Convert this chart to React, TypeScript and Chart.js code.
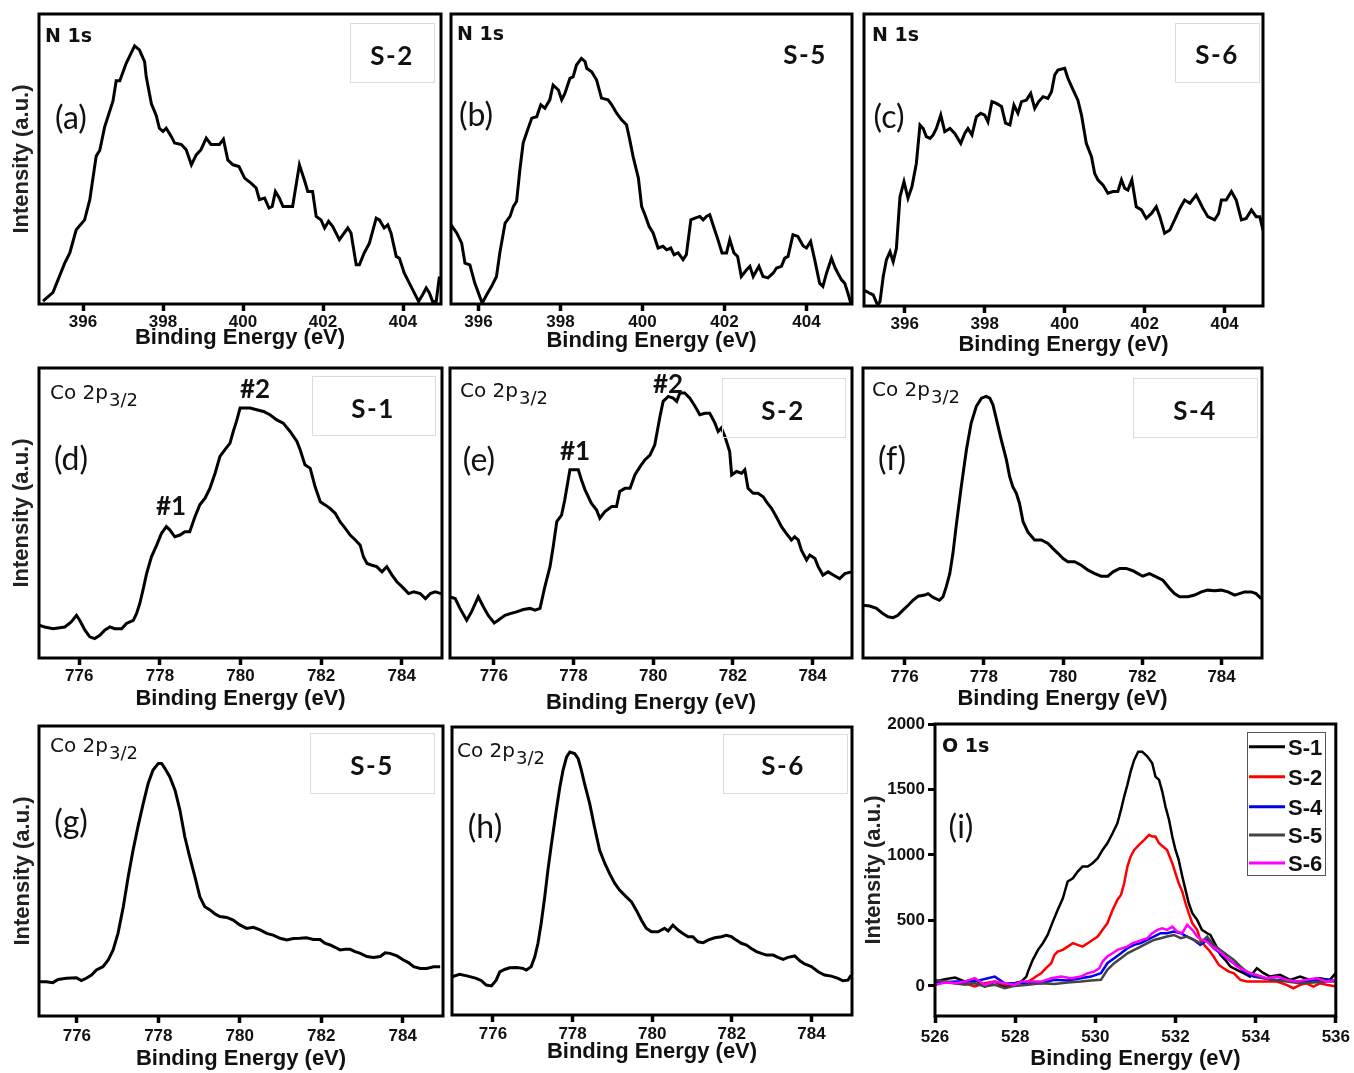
import React, { useEffect, useRef } from "react";
import { Chart, registerables } from "chart.js";
Chart.register(...registerables);
Chart.defaults.font.family = '"Liberation Sans", Arial, sans-serif';
Chart.defaults.color = "#111";

type Pt = [number, number];

// ---------- DATA ----------
const xTicksN = [396, 398, 400, 402, 404];
const xTicksCo = [776, 778, 780, 782, 784];
const xTicksO = [526, 528, 530, 532, 534, 536];
const yTicksO = [0, 500, 1000, 1500, 2000];

const N1s_S2: Pt[] = [[395.00,1],[395.25,4],[395.54,14],[395.67,17.6],[395.83,25.6],[396.04,29],[396.17,36],[396.33,51],[396.42,53],[396.54,61],[396.75,70],[396.83,77],[396.92,77],[397.08,83],[397.29,89],[397.41,87.6],[397.54,83.6],[397.58,78.4],[397.71,69],[397.83,65],[397.91,60.6],[398.00,59.5],[398.08,60.6],[398.21,57.7],[398.29,55.5],[398.46,55],[398.58,53.2],[398.71,48],[398.83,51.4],[398.95,53.2],[399.08,57.2],[399.20,55],[399.41,55],[399.51,56.8],[399.62,49.7],[399.75,48],[399.90,47.4],[400.04,43.4],[400.20,41.7],[400.33,40],[400.41,36],[400.54,36.5],[400.65,33.1],[400.73,33.6],[400.81,38.8],[400.91,36.5],[401.00,33.6],[401.24,33.6],[401.41,48],[401.54,42.5],[401.62,38.8],[401.74,38.8],[401.83,30.2],[401.95,29],[402.04,26.2],[402.14,28.5],[402.24,26.8],[402.41,22.2],[402.62,26.2],[402.70,24.5],[402.83,13.5],[402.91,13.5],[403.03,17.6],[403.16,21],[403.33,29.6],[403.41,29],[403.53,26.2],[403.62,27.3],[403.70,24.5],[403.83,16.4],[403.91,15.8],[404.03,10.7],[404.20,6.1],[404.39,0.9],[404.49,3.2],[404.58,5.5],[404.66,3.8],[404.74,0.9],[404.83,0.9],[404.91,9.5]];

const N1s_S5: Pt[] = [[395.33,27.3],[395.47,24.5],[395.59,21],[395.67,14.1],[395.79,13.5],[395.91,7.2],[396.09,0.3],[396.20,3.2],[396.32,6.1],[396.44,9.5],[396.52,17.6],[396.65,27.9],[396.77,30.2],[396.85,33.6],[396.93,35.4],[397.01,46.3],[397.09,55.5],[397.17,58.9],[397.30,64.1],[397.42,64.6],[397.52,68.7],[397.62,67.5],[397.74,70.4],[397.82,75.5],[397.95,73.8],[398.03,70.4],[398.11,72.7],[398.23,77.8],[398.31,78.4],[398.39,82.4],[398.51,84.7],[398.60,83.6],[398.64,81.3],[398.76,80.1],[398.88,77.3],[399.00,71],[399.16,70.4],[399.25,68.7],[399.37,65.8],[399.49,63.5],[399.61,61.8],[399.69,56.6],[399.77,50.9],[399.90,43.4],[399.98,33.6],[400.06,30.8],[400.16,26.8],[400.26,24.5],[400.38,19.3],[400.50,19.9],[400.59,18.7],[400.69,19.3],[400.77,17],[400.87,17.6],[400.99,15.3],[401.07,17],[401.18,29],[401.28,29.6],[401.40,30.2],[401.48,29],[401.56,30.2],[401.64,30.8],[401.76,25.6],[401.84,22.2],[401.94,17.6],[402.05,17.6],[402.13,22.2],[402.23,17.6],[402.32,16.4],[402.41,9.5],[402.54,11.8],[402.62,13],[402.70,9.5],[402.84,13],[402.94,9.5],[403.06,9],[403.19,10.7],[403.27,12.4],[403.39,13],[403.47,15.8],[403.55,16.4],[403.67,23.9],[403.79,23.3],[403.92,20],[404.00,19.3],[404.10,21.6],[404.20,15.3],[404.32,7.2],[404.40,6.1],[404.49,10.7],[404.61,15.8],[404.70,12.4],[404.85,8.4],[404.93,7.2],[405.01,3.8],[405.08,0.3]];

const N1s_S6: Pt[] = [[394.98,5.5],[395.13,4.3],[395.21,3.8],[395.32,0.3],[395.38,1.5],[395.46,10],[395.54,15.8],[395.63,18.6],[395.71,15.2],[395.79,19.7],[395.88,37.4],[395.98,42.6],[396.08,36.9],[396.18,40.9],[396.29,48.9],[396.38,62],[396.46,60.8],[396.54,58],[396.63,57.4],[396.71,58.6],[396.79,60.8],[396.90,65.4],[397.00,59.7],[397.13,60.8],[397.25,59.1],[397.40,55.7],[397.50,59.1],[397.58,60.8],[397.68,58.6],[397.79,64.8],[397.90,66],[398.00,65.4],[398.08,63.1],[398.18,70],[398.29,69.4],[398.42,68.3],[398.52,62.6],[398.63,62],[398.73,68.8],[398.83,66],[398.92,70],[399.04,70.5],[399.15,72.8],[399.25,67.7],[399.35,70],[399.46,71.7],[399.58,71.1],[399.67,73.4],[399.75,79.1],[399.83,80.8],[400.00,81.4],[400.08,78],[400.21,74],[400.33,70.5],[400.42,65.4],[400.54,55.7],[400.67,51.1],[400.75,45.4],[400.83,43.2],[400.96,41.4],[401.08,38.6],[401.21,39.2],[401.33,39.2],[401.42,43.2],[401.50,40.3],[401.58,39.7],[401.68,43.2],[401.79,34],[401.92,32.9],[402.04,30],[402.17,31.7],[402.29,34],[402.38,30.6],[402.50,24.9],[402.63,26],[402.75,29.5],[402.88,33.4],[403.00,36.3],[403.13,35.2],[403.29,38],[403.46,33.4],[403.58,30.6],[403.75,29.5],[403.85,31.7],[403.92,36.3],[404.04,36.3],[404.17,39.2],[404.29,36.3],[404.42,29.5],[404.54,30],[404.67,32.9],[404.79,30.6],[404.88,30.6],[404.96,26]];

const Co_S1: Pt[] = [[775.00,11.3],[775.14,10.7],[775.35,10.1],[775.64,10.7],[775.80,12.4],[775.93,14.7],[776.01,13],[776.14,9.6],[776.26,7.3],[776.38,6.7],[776.51,7.8],[776.63,9.6],[776.76,10.7],[776.88,10.1],[777.05,10.1],[777.17,11.9],[777.34,13],[777.42,15.3],[777.50,18.8],[777.58,23.4],[777.67,29.1],[777.79,34.9],[777.92,38.9],[778.04,43],[778.16,45.3],[778.25,44.1],[778.37,41.8],[778.50,42.4],[778.62,43.5],[778.74,43.5],[778.87,48.7],[778.99,52.8],[779.12,55.1],[779.24,58.5],[779.37,63.7],[779.49,69.5],[779.61,71.8],[779.74,74.1],[779.82,78.1],[779.90,81.6],[779.99,86.2],[780.11,86.2],[780.24,86.2],[780.40,85.6],[780.57,85],[780.73,83.9],[780.90,82.1],[781.06,81],[781.23,78.1],[781.40,74.7],[781.48,71.8],[781.60,66.6],[781.73,65.4],[781.85,59.1],[781.98,53.9],[782.10,52.8],[782.22,51.6],[782.35,49.9],[782.47,47],[782.60,44.7],[782.72,42.4],[782.85,40.7],[782.97,38.9],[783.05,34.9],[783.14,32.6],[783.26,32],[783.38,31.5],[783.51,29.7],[783.63,31.5],[783.76,28.6],[783.88,26.3],[784.05,24],[784.17,22.2],[784.30,22.8],[784.46,22.2],[784.59,20.5],[784.71,22.2],[784.83,22.8],[784.98,22.2]];

const Co_S2: Pt[] = [[774.90,21.1],[775.03,20.5],[775.15,17.1],[775.32,13],[775.44,15.9],[775.61,21.1],[775.74,17.6],[775.86,14.7],[776.01,12.1],[776.11,13],[776.28,14.7],[776.41,15.3],[776.57,15.9],[776.74,16.7],[776.91,17.1],[777.03,16.5],[777.16,17.1],[777.28,24.5],[777.41,31.5],[777.49,38.4],[777.58,47],[777.70,49.3],[777.78,54.5],[777.91,64.9],[778.12,64.9],[778.20,61.4],[778.29,58],[778.45,53.3],[778.58,51],[778.66,48.2],[778.79,50.5],[778.96,52.2],[779.08,52.2],[779.16,57.4],[779.29,58.5],[779.42,58.5],[779.54,63.1],[779.67,66],[779.79,68.3],[779.92,70],[780.04,73.5],[780.17,83.3],[780.25,88.5],[780.38,90.2],[780.50,89.6],[780.59,88.5],[780.67,91.4],[780.79,91.4],[780.92,89.6],[781.05,86.8],[781.17,83.9],[781.30,84.4],[781.42,84.4],[781.55,81],[781.63,78.1],[781.71,79.3],[781.80,76.4],[781.92,71.2],[781.97,63.1],[782.09,64.3],[782.22,63.7],[782.30,64.9],[782.38,58.5],[782.51,56.8],[782.63,56.8],[782.76,55.6],[782.84,53.9],[782.97,51.6],[783.09,48.7],[783.22,45.3],[783.34,43],[783.47,40.7],[783.55,41.8],[783.64,40.7],[783.72,37.2],[783.85,33.8],[783.93,35.5],[784.06,34.3],[784.14,31.5],[784.26,28.6],[784.39,29.7],[784.52,28.6],[784.68,27.4],[784.81,29.1],[784.98,29.7]];

const Co_S4: Pt[] = [[774.95,18.2],[775.12,17.9],[775.29,17.1],[775.45,15.3],[775.58,14.2],[775.71,13.9],[775.83,14.7],[775.96,16.5],[776.09,18.2],[776.21,19.9],[776.34,21.3],[776.51,21.7],[776.59,22.2],[776.72,20.9],[776.88,19.9],[776.97,21.1],[777.05,24.5],[777.14,29.1],[777.22,36.1],[777.30,45.3],[777.43,59.1],[777.56,71.8],[777.68,81],[777.81,86.8],[777.94,89.6],[778.06,90.2],[778.15,89.6],[778.23,87.3],[778.31,82.7],[778.44,75.2],[778.57,68.3],[778.65,62.6],[778.73,59.1],[778.82,56.8],[778.90,53.3],[778.99,47],[779.11,43.5],[779.28,40.7],[779.45,40.7],[779.62,39.5],[779.74,37.8],[779.87,36.1],[780.00,34.3],[780.12,33.2],[780.29,33.2],[780.46,32],[780.63,30.3],[780.80,29.1],[780.96,28.2],[781.13,28.2],[781.26,29.7],[781.43,30.9],[781.59,30.9],[781.76,30.1],[781.89,29.1],[782.01,28.2],[782.18,29.1],[782.35,28],[782.52,26.8],[782.69,24],[782.81,22.2],[782.94,21.1],[783.15,21.1],[783.32,21.7],[783.49,22.8],[783.65,23.4],[783.82,23.2],[783.99,23.4],[784.16,22.8],[784.33,21.7],[784.45,22.2],[784.58,22.8],[784.75,22.8],[784.87,22.2],[785.00,20.5]];

const Co_S5: Pt[] = [[775.07,11.8],[775.25,11.8],[775.41,11.5],[775.54,12.6],[775.74,13],[775.99,13.2],[776.11,12.2],[776.23,13],[776.36,14.1],[776.48,15.9],[776.64,17],[776.77,19.3],[776.89,22.8],[777.01,28.5],[777.14,37.7],[777.26,48],[777.38,57.2],[777.50,65.3],[777.63,73.3],[777.75,80.2],[777.87,84.8],[778.00,87.1],[778.08,87.1],[778.16,85.4],[778.28,82.5],[778.41,77.9],[778.53,71],[778.65,61.8],[778.77,54.9],[778.90,48],[779.02,41.1],[779.14,37.7],[779.27,36.6],[779.39,35.2],[779.51,34.3],[779.68,34],[779.84,33.1],[780.00,31.4],[780.17,30.2],[780.33,30.6],[780.50,29.7],[780.66,28.5],[780.82,27.9],[780.99,26.8],[781.15,26.2],[781.32,26.7],[781.48,26.8],[781.64,27],[781.81,26.4],[781.97,26.4],[782.09,25.1],[782.22,24.5],[782.34,23.7],[782.46,22.8],[782.59,23],[782.71,23],[782.83,22.2],[782.96,21.6],[783.12,20.5],[783.28,20.2],[783.45,20.5],[783.57,21.8],[783.69,21.6],[783.86,20.7],[784.02,19.3],[784.14,18.4],[784.27,17],[784.43,16.4],[784.59,16.4],[784.76,17],[784.92,17]];

const Co_S6: Pt[] = [[774.97,13.3],[775.16,14.1],[775.37,13.5],[775.58,12.7],[775.71,11.9],[775.83,10.4],[775.96,10.1],[776.08,12.1],[776.17,15],[776.29,15.8],[776.42,16.4],[776.59,16.5],[776.75,16.2],[776.84,15.6],[776.96,16.8],[777.05,20.2],[777.13,24.9],[777.21,31.8],[777.30,41],[777.38,50.3],[777.47,59.5],[777.59,71.1],[777.68,79.2],[777.76,85],[777.85,89.6],[777.93,91.3],[778.05,90.8],[778.14,89],[778.22,85],[778.30,80.3],[778.43,73.4],[778.55,65.3],[778.68,57.2],[778.81,52.6],[778.93,49.1],[779.06,45.7],[779.18,43.4],[779.35,41],[779.48,39.3],[779.60,36.4],[779.73,32.9],[779.85,30.1],[779.98,28.9],[780.15,28.9],[780.23,29.5],[780.31,30.1],[780.40,29.2],[780.52,31.2],[780.65,29.5],[780.77,28.3],[780.90,27.2],[781.02,27.2],[781.15,25.4],[781.28,25.1],[781.40,26],[781.57,26.8],[781.74,27.2],[781.86,27.7],[781.99,27.2],[782.11,26],[782.24,24.9],[782.37,24.3],[782.49,23.1],[782.62,22],[782.74,21.4],[782.87,20.8],[783.04,20.8],[783.16,20],[783.29,19.3],[783.41,20],[783.58,20.5],[783.71,18.8],[783.83,17.7],[784.00,16.8],[784.17,15],[784.33,13.9],[784.50,13.5],[784.67,12.7],[784.79,11.9],[784.92,12.1],[785.00,13.9]];

const O1s_S1: Pt[] = [[526.00,33],[526.25,51],[526.50,64],[526.75,33],[526.99,51],[527.24,-5],[527.49,33],[527.74,-5],[527.99,20],[528.15,33],[528.28,71],[528.32,109],[528.44,199],[528.57,275],[528.69,326],[528.81,389],[528.94,491],[529.06,580],[529.19,669],[529.31,797],[529.44,822],[529.56,873],[529.68,911],[529.81,911],[529.93,937],[530.06,975],[530.18,1038],[530.30,1089],[530.43,1166],[530.55,1242],[530.64,1344],[530.72,1446],[530.80,1535],[530.88,1636],[530.97,1726],[531.07,1789],[531.17,1789],[531.30,1751],[531.42,1700],[531.50,1598],[531.59,1573],[531.67,1484],[531.75,1369],[531.84,1267],[531.92,1140],[532.00,1038],[532.08,962],[532.17,835],[532.25,733],[532.33,631],[532.42,555],[532.54,504],[532.66,428],[532.79,402],[532.87,389],[533.00,313],[533.12,237],[533.24,199],[533.37,148],[533.53,122],[533.70,97],[533.86,71],[534.03,135],[534.20,97],[534.36,71],[534.61,84],[534.86,46],[535.11,71],[535.35,46],[535.60,59],[535.85,46],[536.00,97]];

const O1s_S2: Pt[] = [[526.00,8],[526.25,33],[526.50,20],[526.75,20],[526.99,-5],[527.24,20],[527.49,33],[527.74,8],[527.99,20],[528.24,25],[528.40,46],[528.52,71],[528.65,97],[528.77,135],[528.90,173],[528.98,237],[529.06,262],[529.19,275],[529.31,300],[529.44,326],[529.56,313],[529.68,300],[529.81,326],[529.93,351],[530.06,377],[530.18,428],[530.30,478],[530.43,580],[530.55,657],[530.64,695],[530.72,784],[530.80,911],[530.88,987],[530.97,1038],[531.09,1077],[531.22,1115],[531.34,1153],[531.42,1140],[531.50,1140],[531.59,1089],[531.79,1038],[531.92,937],[532.00,860],[532.08,784],[532.17,720],[532.25,631],[532.33,555],[532.42,478],[532.54,428],[532.62,351],[532.75,300],[532.83,275],[532.95,224],[533.08,160],[533.20,135],[533.33,109],[533.45,97],[533.62,46],[533.78,33],[534.03,33],[534.28,33],[534.53,33],[534.77,8],[534.94,-18],[535.11,8],[535.27,20],[535.44,-5],[535.60,20],[535.77,8],[536.00,-5]];

const O1s_S4: Pt[] = [[526.00,20],[526.50,33],[526.99,33],[527.49,71],[527.74,20],[527.99,20],[528.32,25],[528.65,20],[528.98,46],[529.31,41],[529.64,59],[529.89,71],[530.14,97],[530.30,173],[530.47,211],[530.64,249],[530.80,288],[530.97,313],[531.13,326],[531.30,351],[531.46,377],[531.63,402],[531.79,402],[531.96,415],[532.13,402],[532.29,377],[532.46,351],[532.62,313],[532.79,351],[532.95,288],[533.12,249],[533.28,211],[533.45,173],[533.62,135],[533.78,97],[533.95,71],[534.20,59],[534.44,46],[534.77,41],[535.11,33],[535.44,41],[535.77,46],[536.00,41]];

const O1s_S5: Pt[] = [[526.00,46],[526.25,33],[526.50,20],[526.75,8],[526.99,20],[527.24,-5],[527.49,8],[527.74,-18],[527.99,0],[528.32,8],[528.65,20],[528.98,15],[529.31,25],[529.64,33],[529.89,41],[530.14,46],[530.30,122],[530.47,173],[530.64,211],[530.80,249],[530.97,275],[531.13,300],[531.30,326],[531.46,351],[531.63,364],[531.79,377],[531.96,389],[532.13,364],[532.29,377],[532.46,351],[532.62,326],[532.79,377],[532.95,313],[533.12,275],[533.28,237],[533.45,199],[533.62,148],[533.78,109],[533.95,84],[534.20,59],[534.44,46],[534.77,33],[535.11,20],[535.44,25],[535.77,33],[536.00,33]];

const O1s_S6: Pt[] = [[526.00,8],[526.25,25],[526.50,20],[526.75,33],[526.99,59],[527.24,8],[527.49,33],[527.74,20],[527.99,8],[528.15,33],[528.40,33],[528.65,33],[528.90,59],[529.15,71],[529.39,59],[529.64,71],[529.81,97],[529.97,109],[530.10,135],[530.18,186],[530.30,224],[530.43,249],[530.55,275],[530.68,288],[530.80,300],[530.93,326],[531.05,338],[531.17,351],[531.30,364],[531.42,402],[531.55,428],[531.67,440],[531.79,428],[531.92,453],[532.04,415],[532.17,402],[532.29,466],[532.42,428],[532.54,377],[532.66,351],[532.79,338],[532.91,300],[533.04,275],[533.16,249],[533.28,211],[533.41,186],[533.53,148],[533.70,122],[533.86,97],[534.03,84],[534.28,59],[534.53,71],[534.77,46],[535.02,33],[535.27,46],[535.52,59],[535.77,33],[536.00,46]];

const legendLabels = ["S-1", "S-2", "S-4", "S-5", "S-6"];
const legendColors = ["#000000", "#ff0000", "#0000ee", "#444444", "#ff00ff"];

// ---------- LAYOUT ----------
type Txt = { t: string; x: number; y: number; f: string; a?: CanvasTextAlign; sub?: string; subF?: string; ls?: string };
type Series = { data: Pt[]; color: string; width: number; order?: number };
type Spec = {
  frame: [number, number, number, number];
  xMin: number; xMax: number; yMin: number; yMax: number;
  xTicks: number[];
  xTitleY: number; tickPad: number;
  yTitleX?: number; yTicks?: number[];
  padRight?: number;
  series: Series[];
  texts: Txt[];
  boxes: [number, number, number, number][];
  legend?: { box: [number, number, number, number]; rows: number[]; x1: number; x2: number; tx: number };
};

const FONT_N = 'bold 19px "DejaVu Sans"';
const FONT_CO = '20px "DejaVu Sans"';
const FONT_SUB = '18px "DejaVu Sans"';
const FONT_S = 'bold 26px Lato';
const FONT_L = '32px Lato';
const FONT_H = 'bold 26px Lato';

const coLabel = (x: number, y: number): Txt => ({ t: "Co 2p", x, y, f: FONT_CO, sub: "3/2", subF: FONT_SUB });
const sLabel = (t: string, x: number, y: number): Txt => ({ t, x, y, f: FONT_S, a: "center", ls: "1.5px" });
const pLabel = (t: string, x: number, y: number): Txt => ({ t, x, y, f: FONT_L, a: "center" });

const specs: Spec[] = [
  { frame: [39, 14, 441, 304], xMin: 394.9, xMax: 404.95, yMin: 0, yMax: 100, xTicks: xTicksN, xTitleY: 337.5, tickPad: 1.0, yTitleX: 22,
    series: [{ data: N1s_S2, color: "#000", width: 3 }],
    texts: [{ t: "N 1s", x: 45, y: 42, f: FONT_N }, sLabel("S-2", 392, 65), pLabel("(a)", 71, 128.5)],
    boxes: [[350, 23, 434, 82]] },
  { frame: [451, 14, 852, 304], xMin: 395.33, xMax: 405.11, yMin: 0, yMax: 100, xTicks: xTicksN, xTitleY: 340.5, tickPad: 1.5,
    series: [{ data: N1s_S5, color: "#000", width: 3 }],
    texts: [{ t: "N 1s", x: 457, y: 39.5, f: FONT_N }, sLabel("S-5", 805, 63.5), pLabel("(b)", 476, 125.5)],
    boxes: [] },
  { frame: [864, 14, 1263, 306], xMin: 394.98, xMax: 404.96, yMin: 0, yMax: 100, xTicks: xTicksN, xTitleY: 345, tickPad: 1.5,
    series: [{ data: N1s_S6, color: "#000", width: 3 }],
    texts: [{ t: "N 1s", x: 872, y: 40.7, f: FONT_N }, sLabel("S-6", 1217, 64), pLabel("(c)", 889, 127.5)],
    boxes: [[1175, 23, 1259, 82]] },
  { frame: [39, 368, 442, 658], xMin: 775, xMax: 785, yMin: 0, yMax: 100, xTicks: xTicksCo, xTitleY: 699, tickPad: 1.0, yTitleX: 22,
    series: [{ data: Co_S1, color: "#000", width: 3 }],
    texts: [coLabel(50, 399), sLabel("S-1", 373, 417.5), pLabel("(d)", 71, 470),
      { t: "#1", x: 171, y: 515, f: FONT_H, a: "center" }, { t: "#2", x: 255, y: 398, f: FONT_H, a: "center" }],
    boxes: [[312, 376, 435, 435]] },
  { frame: [450, 368, 852, 658], xMin: 774.9, xMax: 784.99, yMin: 0, yMax: 100, xTicks: xTicksCo, xTitleY: 703, tickPad: 1.0,
    series: [{ data: Co_S2, color: "#000", width: 3 }],
    texts: [coLabel(460, 396.7), sLabel("S-2", 783, 420), pLabel("(e)", 479, 470.5),
      { t: "#1", x: 575, y: 460, f: FONT_H, a: "center" }, { t: "#2", x: 668, y: 393, f: FONT_H, a: "center" }],
    boxes: [[722, 378, 845, 437]] },
  { frame: [863, 368, 1262, 658], xMin: 774.95, xMax: 785.02, yMin: 0, yMax: 100, xTicks: xTicksCo, xTitleY: 698.5, tickPad: 2.0,
    series: [{ data: Co_S4, color: "#000", width: 3 }],
    texts: [coLabel(872, 396), sLabel("S-4", 1195, 420), pLabel("(f)", 892, 469.5)],
    boxes: [[1133, 378, 1257, 437]] },
  { frame: [39, 726, 443, 1016], xMin: 775.07, xMax: 784.99, yMin: 0, yMax: 100, xTicks: xTicksCo, xTitleY: 1059, tickPad: 3.0, yTitleX: 23,
    series: [{ data: Co_S5, color: "#000", width: 3 }],
    texts: [coLabel(50, 751.7), sLabel("S-5", 372, 774.5), pLabel("(g)", 71, 832.5)],
    boxes: [[310, 733, 434, 793]] },
  { frame: [452, 727, 852, 1015], xMin: 774.97, xMax: 785.02, yMin: 0, yMax: 100, xTicks: xTicksCo, xTitleY: 1052, tickPad: 2.0,
    series: [{ data: Co_S6, color: "#000", width: 3 }],
    texts: [coLabel(457, 756.7), sLabel("S-6", 783, 774.5), pLabel("(h)", 485, 837.5)],
    boxes: [[723, 734, 847, 793]] },
  { frame: [935, 724, 1338, 1016], xMin: 526, xMax: 536, yMin: -230, yMax: 2000, xTicks: xTicksO, xTitleY: 1059, tickPad: 4.0, yTitleX: 874, yTicks: yTicksO, padRight: 16,
    series: [O1s_S1, O1s_S2, O1s_S4, O1s_S5, O1s_S6].map((d, i) => ({ data: d, color: legendColors[i], width: 2.5, order: 5 - i })),
    texts: [{ t: "O 1s", x: 942, y: 752.3, f: 'bold 19px "DejaVu Sans"' }, pLabel("(i)", 961, 837.5)],
    boxes: [],
    legend: { box: [1247, 732, 1325, 875], rows: [746.7, 776.7, 806.7, 835, 863], x1: 1249, x2: 1285, tx: 1288 } },
];

const FAM = '"Liberation Sans", Arial, sans-serif';
const TICK_SIZE = 17;
const XT_SIZE = 22;
const YT_SIZE = 22;

function Panel({ s }: { s: Spec }) {
  const ref = useRef<HTMLCanvasElement>(null);
  const [L, T, R, B] = s.frame;
  const hasY = s.yTitleX !== undefined;
  const yLH = YT_SIZE * 1.2, xLH = XT_SIZE * 1.2;
  const cl = hasY ? Math.floor((s.yTitleX as number) - yLH / 2 - 2) : L - 8;
  const pl = hasY ? (s.yTitleX as number) - yLH / 2 - cl : L - cl;
  const yW = hasY ? L - cl - pl : 0;
  const pt = 14;
  const ct = T - pt;
  const pr = s.padRight ?? 10;
  const cw = R + pr - cl;
  const xH = s.xTitleY + xLH / 2 - B;
  const ch = Math.ceil(B - ct + xH + 2);
  const pb = ch - (B - ct) - xH;

  useEffect(() => {
    if (!ref.current) return;
    const overlay = {
      id: "overlay",
      afterDraw(chart: any) {
        const { ctx, chartArea } = chart;
        ctx.save();
        ctx.lineWidth = 3;
        ctx.strokeStyle = "#000";
        ctx.strokeRect(chartArea.left, chartArea.top, chartArea.right - chartArea.left, chartArea.bottom - chartArea.top);
        ctx.lineWidth = 1;
        ctx.strokeStyle = "#dcdcdc";
        for (const b of s.boxes) ctx.strokeRect(b[0] - cl + 0.5, b[1] - ct + 0.5, b[2] - b[0], b[3] - b[1]);
        ctx.fillStyle = "#111";
        ctx.textBaseline = "alphabetic";
        for (const it of s.texts) {
          ctx.font = it.f;
          ctx.textAlign = it.a || "left";
          (ctx as any).letterSpacing = it.ls || "0px";
          ctx.fillText(it.t, it.x - cl, it.y - ct);
          if (it.sub) {
            const w = ctx.measureText(it.t).width;
            ctx.font = it.subF || it.f;
            ctx.fillText(it.sub, it.x - cl + w + 1, it.y - ct + 7);
          }
        }
        (ctx as any).letterSpacing = "0px";
        if (s.legend) {
          const lg = s.legend;
          ctx.lineWidth = 1;
          ctx.strokeStyle = "#555";
          ctx.strokeRect(lg.box[0] - cl + 0.5, lg.box[1] - ct + 0.5, lg.box[2] - lg.box[0], lg.box[3] - lg.box[1]);
          ctx.font = `bold 22px ${FAM}`;
          ctx.textAlign = "left";
          ctx.textBaseline = "alphabetic";
          lg.rows.forEach((yy, i) => {
            ctx.strokeStyle = legendColors[i];
            ctx.lineWidth = 3;
            ctx.beginPath();
            ctx.moveTo(lg.x1 - cl, yy - ct);
            ctx.lineTo(lg.x2 - cl, yy - ct);
            ctx.stroke();
            ctx.fillStyle = "#111";
            ctx.fillText(legendLabels[i], lg.tx - cl, yy - ct + 7.9);
          });
        }
        ctx.restore();
      },
    };

    const tickFont = { family: FAM, size: TICK_SIZE, weight: "bold" as const };
    const fmt = (v: any) => String(v);
    const chart = new Chart(ref.current, {
      type: "line",
      data: {
        datasets: s.series.map((d) => ({
          data: d.data.map(([x, y]) => ({ x, y })),
          borderColor: d.color,
          backgroundColor: d.color,
          borderWidth: d.width,
          pointRadius: 0,
          tension: 0,
          fill: false,
          order: d.order ?? 0,
        })),
      },
      options: {
        responsive: false,
        animation: false,
        events: [],
        layout: { padding: { left: pl, top: pt, right: pr, bottom: pb } },
        plugins: { legend: { display: false }, tooltip: { enabled: false } },
        scales: {
          x: {
            type: "linear",
            min: s.xMin,
            max: s.xMax,
            afterFit: (sc: any) => { sc.height = xH; },
            afterBuildTicks: (sc: any) => { sc.ticks = s.xTicks.map((v) => ({ value: v })); },
            ticks: { autoSkip: false, maxRotation: 0, padding: s.tickPad, font: tickFont, color: "#111", callback: fmt },
            grid: { display: true, drawOnChartArea: false, drawTicks: true, tickLength: 7, tickWidth: 3.5, tickColor: "#000" },
            border: { display: false },
            title: { display: true, text: "Binding Energy (eV)", font: { family: FAM, size: XT_SIZE, weight: "bold" }, color: "#111", padding: 0 },
          },
          y: hasY
            ? {
                type: "linear",
                min: s.yMin,
                max: s.yMax,
                afterFit: (sc: any) => { sc.width = yW; },
                afterBuildTicks: (sc: any) => { sc.ticks = (s.yTicks || []).map((v) => ({ value: v })); },
                ticks: s.yTicks ? { padding: 3, font: tickFont, color: "#111", callback: fmt } : { display: false },
                grid: s.yTicks
                  ? { display: true, drawOnChartArea: false, drawTicks: true, tickLength: 7, tickWidth: 3, tickColor: "#000" }
                  : { display: false },
                border: { display: false },
                title: { display: true, text: "Intensity (a.u.)", font: { family: FAM, size: YT_SIZE, weight: "bold" }, color: "#222", padding: 0 },
              }
            : { type: "linear", display: false, min: s.yMin, max: s.yMax },
        },
      } as any,
      plugins: [overlay],
    });
    return () => chart.destroy();
  }, []);

  return (
    <canvas
      ref={ref}
      width={cw}
      height={ch}
      style={{ position: "absolute", left: cl, top: ct, width: cw, height: ch }}
    />
  );
}

export default function App() {
  return (
    <div style={{ position: "absolute", left: 0, top: 0, width: 1354, height: 1073, overflow: "hidden", background: "#fff" }}>
      {specs.map((s, i) => (
        <Panel key={i} s={s} />
      ))}
    </div>
  );
}
